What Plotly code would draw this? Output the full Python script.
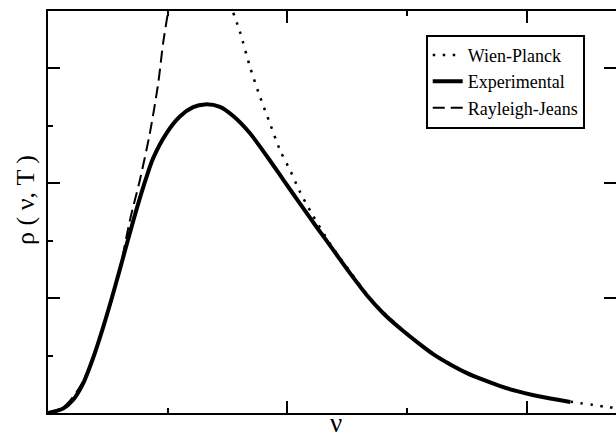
import plotly.graph_objects as go

# Experimental (Planck) curve
nu_exp = [0, 0.126, 0.209, 0.293, 0.377, 0.460, 0.531, 0.600, 0.669, 0.740, 0.820,
          0.879, 0.991, 1.102, 1.213, 1.311, 1.437, 1.548, 1.688, 1.828, 1.967,
          2.106, 2.246, 2.385, 2.525, 2.665, 2.804, 2.944, 3.083, 3.222, 3.362,
          3.501, 3.640, 3.780, 3.920, 4.059, 4.198, 4.365]
rho_exp = [0, 0.077, 0.226, 0.512, 0.957, 1.488, 1.985, 2.496, 3.020, 3.546, 4.090,
           4.438, 4.875, 5.164, 5.325, 5.374, 5.330, 5.170, 4.870, 4.475, 4.060,
           3.645, 3.235, 2.835, 2.432, 2.051, 1.732, 1.470, 1.237, 1.020, 0.845,
           0.695, 0.575, 0.468, 0.380, 0.310, 0.252, 0.192]

# Rayleigh-Jeans curve
nu_rj = [0, 0.126, 0.209, 0.293, 0.377, 0.460, 0.531, 0.600, 0.684, 0.767, 0.851,
         0.921, 0.962, 1.004]
rho_rj = [0, 0.10, 0.28, 0.55, 0.97, 1.47, 1.96, 2.50, 3.35, 4.05, 4.87, 5.74, 6.44, 6.99]

# Wien-Planck curve
nu_wp = [1.548, 1.604, 1.688, 1.772, 1.855, 1.939, 2.023, 2.106, 2.204, 2.357,
         2.525, 2.665, 2.804, 2.944, 3.083, 3.222, 3.362, 3.501, 3.640, 3.780,
         3.920, 4.059, 4.198, 4.365, 4.45, 4.55, 4.686, 4.747]
rho_wp = [6.97, 6.638, 6.028, 5.505, 5.042, 4.577, 4.228, 3.850, 3.474, 2.95,
          2.46, 2.07, 1.75, 1.485, 1.25, 1.03, 0.855, 0.705, 0.583, 0.476,
          0.388, 0.316, 0.258, 0.198, 0.170, 0.142, 0.10, 0.09]

SERIF = "Liberation Serif, Times New Roman, serif"

fig = go.Figure()
fig.add_trace(go.Scatter(x=nu_wp, y=rho_wp, mode="lines", name="Wien-Planck",
                         legendrank=1, hoverinfo="skip",
                         line=dict(color="black", width=2.5, dash="2.5px,7.5px",
                                   shape="spline", smoothing=0.8)))
fig.add_trace(go.Scatter(x=nu_rj, y=rho_rj, mode="lines", name="Rayleigh-Jeans",
                         legendrank=3, hoverinfo="skip",
                         line=dict(color="black", width=2, dash="12px,6px",
                                   shape="spline", smoothing=0.8)))
fig.add_trace(go.Scatter(x=nu_exp, y=rho_exp, mode="lines", name="Experimental",
                         legendrank=2, hoverinfo="skip",
                         line=dict(color="black", width=4, shape="spline", smoothing=0.8)))
# empty trace so the right-hand tick axis is drawn
fig.add_trace(go.Scatter(x=[], y=[], yaxis="y2", showlegend=False, hoverinfo="skip"))

axis_common = dict(showgrid=False, zeroline=False, showticklabels=False,
                   showline=True, linecolor="black", linewidth=2,
                   ticks="inside", ticklen=12, tickwidth=2, tickcolor="black",
                   tickmode="linear", tick0=0, dtick=2,
                   minor=dict(ticks="inside", ticklen=5, tickwidth=2,
                              tickcolor="black", dtick=1, tick0=0, showgrid=False))

fig.update_layout(
    width=616, height=434,
    margin=dict(l=48, r=0, t=11, b=21),
    paper_bgcolor="white", plot_bgcolor="white",
    xaxis=dict(range=[0, 4.747], mirror="ticks", **axis_common),
    yaxis=dict(range=[0, 7], mirror=False, **axis_common),
    yaxis2=dict(range=[0, 7], overlaying="y", side="right", showline=False,
                showgrid=False, zeroline=False, showticklabels=False,
                ticks="inside", ticklen=12, tickwidth=2, tickcolor="black",
                tickmode="linear", tick0=0, dtick=2),
    showlegend=True,
    legend=dict(x=0.665, y=0.941, xanchor="left", yanchor="top",
                bordercolor="black", borderwidth=2, bgcolor="white",
                font=dict(family=SERIF, size=18, color="black"),
                tracegroupgap=0, itemwidth=30),
    annotations=[
        dict(text="ν", xref="x", yref="paper", x=2.405, y=0, yanchor="top",
             yshift=6, showarrow=False, borderpad=0,
             font=dict(family=SERIF, size=27, color="black")),
        dict(text="ρ ( ν, T )", xref="paper", yref="paper", x=-0.0387, y=0.53,
             xanchor="center", yanchor="middle", textangle=-90, showarrow=False,
             font=dict(family=SERIF, size=26, color="black")),
    ],
)

fig.write_html("out.html", config={"displayModeBar": False},
               post_script="document.body.style.margin='0';document.body.style.overflow='hidden';")
